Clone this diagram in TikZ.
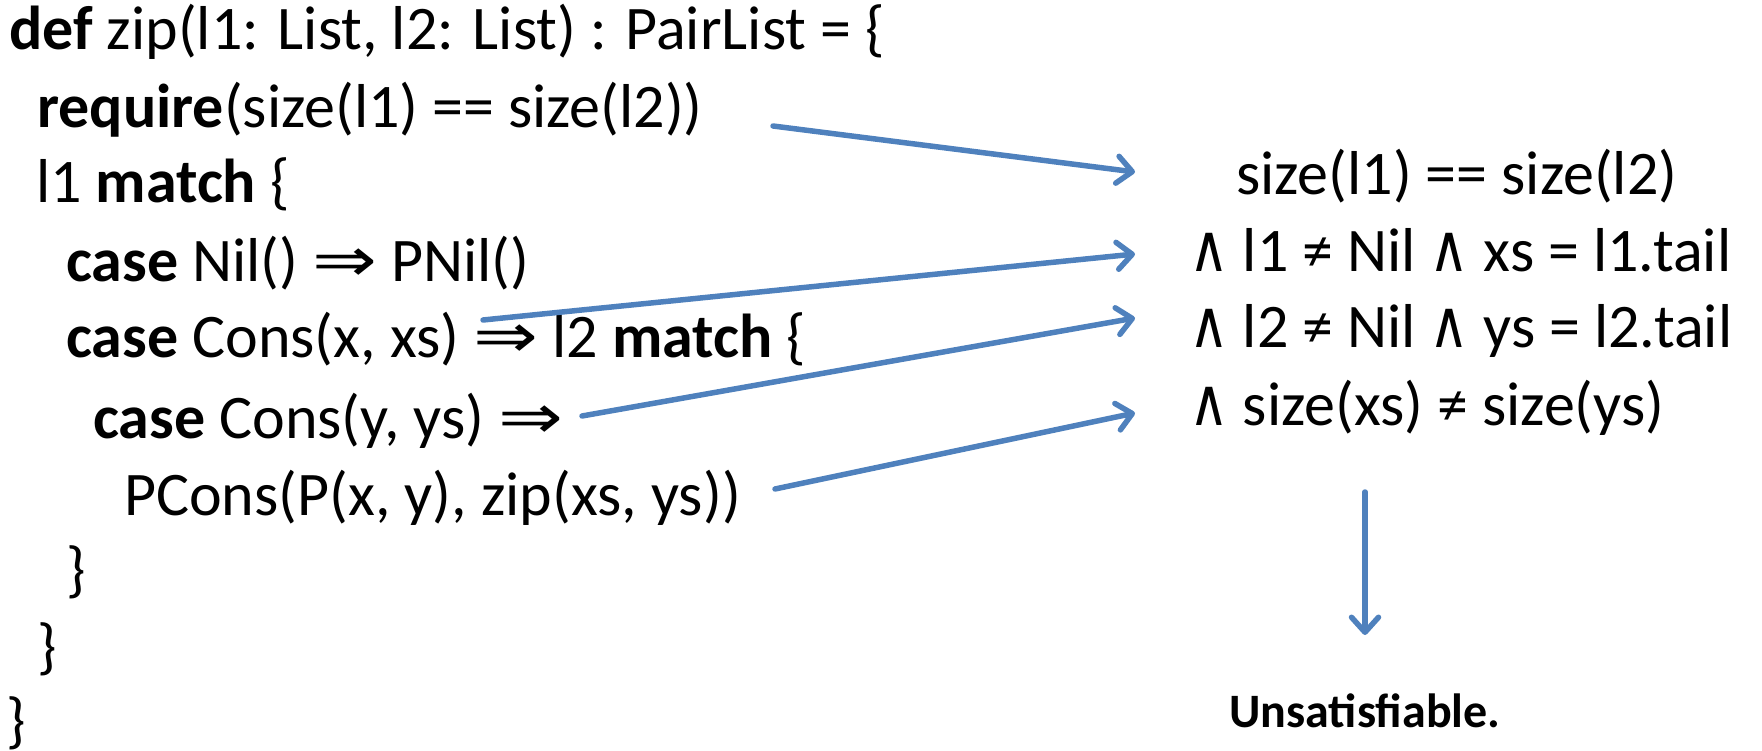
\documentclass[tikz,border=0pt]{standalone}
\usepackage{fontspec}
\setmainfont{Carlito}
\newfontfamily\symfont{DejaVu Sans}
% logical symbols, which Carlito lacks
\newcommand{\imp}{\scalebox{1.25}[1]{\symfont ⇒}}
\newcommand{\conj}{\scalebox{0.82}[1]{\symfont\fontsize{66}{70}\selectfont ∧}}
\usetikzlibrary{arrows.meta}
\definecolor{arrowblue}{HTML}{4F81BD}
\begin{document}
\begin{tikzpicture}[x=1pt,y=-1pt,
  code/.style={anchor=base west,inner sep=0pt,font=\fontsize{62}{74}\selectfont},
  formula/.style={anchor=base west,inner sep=0pt,font=\fontsize{62}{74}\selectfont},
  verdict/.style={anchor=base,inner sep=0pt,font=\fontsize{48}{58}\selectfont\bfseries},
  link/.style={draw=arrowblue,line width=5.5pt,line cap=round,
    -{Straight Barb[length=15pt,width=27pt,line width=5.5pt,round]}}]
\useasboundingbox (0,0) rectangle (1762,751);

% source program
\node[code] (l1)  at (9,50)   {\textbf{def} zip(l1: List, l2: List) : PairList = \{};
\node[code] (l2)  at (37,128) {\textbf{require}(size(l1) == size(l2))};
\node[code] (l3)  at (36,203) {l1 \textbf{match} \{};
\node[code] (l4)  at (66,282) {\textbf{case} Nil() \imp{} PNil()};
\node[code] (l5)  at (66,358) {\textbf{case} Cons(x, xs) \imp{} l2 \textbf{match} \{};
\node[code] (l6)  at (93,438) {\textbf{case} Cons(y, ys) \imp};
\node[code] (l7)  at (124,515) {PCons(P(x, y), zip(xs, ys))};
\node[code] (l8)  at (66,590) {\}};
\node[code] (l9)  at (37,667) {\}};
\node[code] (l10) at (6,741)  {\}};

% verification condition
\node[formula] (f1) at (1236,195) {size(l1) == size(l2)};
\node[formula] (f2) at (1189,272) {\conj{} l1 ≠ Nil \conj{} xs = l1.tail};
\node[formula] (f3) at (1189,348) {\conj{} l2 ≠ Nil \conj{} ys = l2.tail};
\node[formula] (f4) at (1189,425) {\conj{} size(xs) ≠ size(ys)};

\node[verdict] (res) at (1365,727) {Unsatisfiable.};

% arrow end points
\coordinate (s1) at (773,126);  \coordinate (e1) at (1135,172);
\coordinate (s2) at (483,320);  \coordinate (e2) at (1135,254);
\coordinate (s3) at (582,416);  \coordinate (e3) at (1135,318);
\coordinate (s4) at (775,489);  \coordinate (e4) at (1135,413);
\coordinate (s5) at (1365,492); \coordinate (e5) at (1365,635);

\draw[link] (s1) -- (e1);
\draw[link] (s2) -- (e2);
\draw[link] (s3) -- (e3);
\draw[link] (s4) -- (e4);
\draw[link] (s5) -- (e5);
\end{tikzpicture}
\end{document}
